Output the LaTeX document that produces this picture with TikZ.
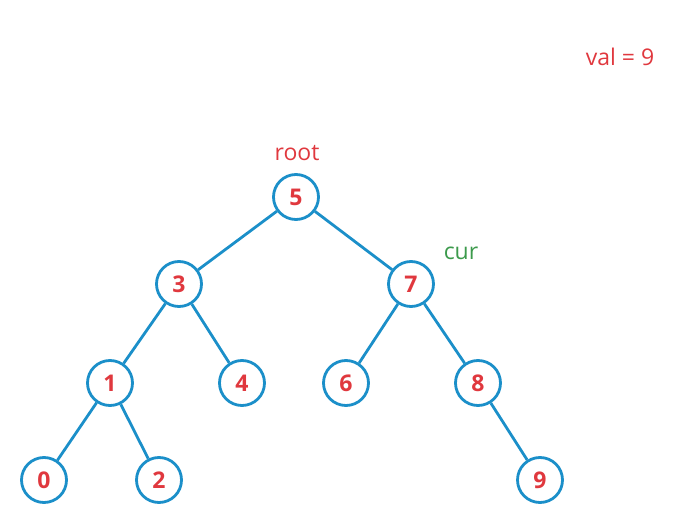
\documentclass[tikz,border=0pt]{standalone}
\usepackage{fontspec}
\setmainfont{Open Sans}
\definecolor{nodeblue}{HTML}{1B8FC9}
\definecolor{txtred}{HTML}{E0383E}
\definecolor{txtgreen}{HTML}{3C9A4C}
\begin{document}
\begin{tikzpicture}[x=1pt,y=-1pt,
  tnode/.style={circle,draw=nodeblue,line width=2.8pt,fill=white,minimum size=45pt,inner sep=0pt,
    text=txtred,font=\fontsize{23}{26}\selectfont\bfseries},
  edge/.style={draw=nodeblue,line width=2.8pt},
  lbl/.style={font=\fontsize{23}{26}\selectfont,inner sep=0pt}]
\useasboundingbox (0,0) rectangle (680,521);
\node[tnode] (n5) at (296,197) {5};
\node[tnode] (n3) at (179,284) {3};
\node[tnode] (n7) at (411,284) {7};
\node[tnode] (n1) at (110,383) {1};
\node[tnode] (n4) at (242,383) {4};
\node[tnode] (n6) at (346,383) {6};
\node[tnode] (n8) at (478,383) {8};
\node[tnode] (n0) at (44,480) {0};
\node[tnode] (n2) at (159,480) {2};
\node[tnode] (n9) at (540,480) {9};
\draw[edge] (n5) -- (n3);
\draw[edge] (n5) -- (n7);
\draw[edge] (n3) -- (n1);
\draw[edge] (n3) -- (n4);
\draw[edge] (n7) -- (n6);
\draw[edge] (n7) -- (n8);
\draw[edge] (n1) -- (n0);
\draw[edge] (n1) -- (n2);
\draw[edge] (n8) -- (n9);
\node[lbl,text=txtred] (root) at (297,153) {root};
\node[lbl,text=txtgreen] (cur) at (461,253) {cur};
\node[lbl,text=txtred] (val) at (620,57) {val = 9};
\end{tikzpicture}
\end{document}
